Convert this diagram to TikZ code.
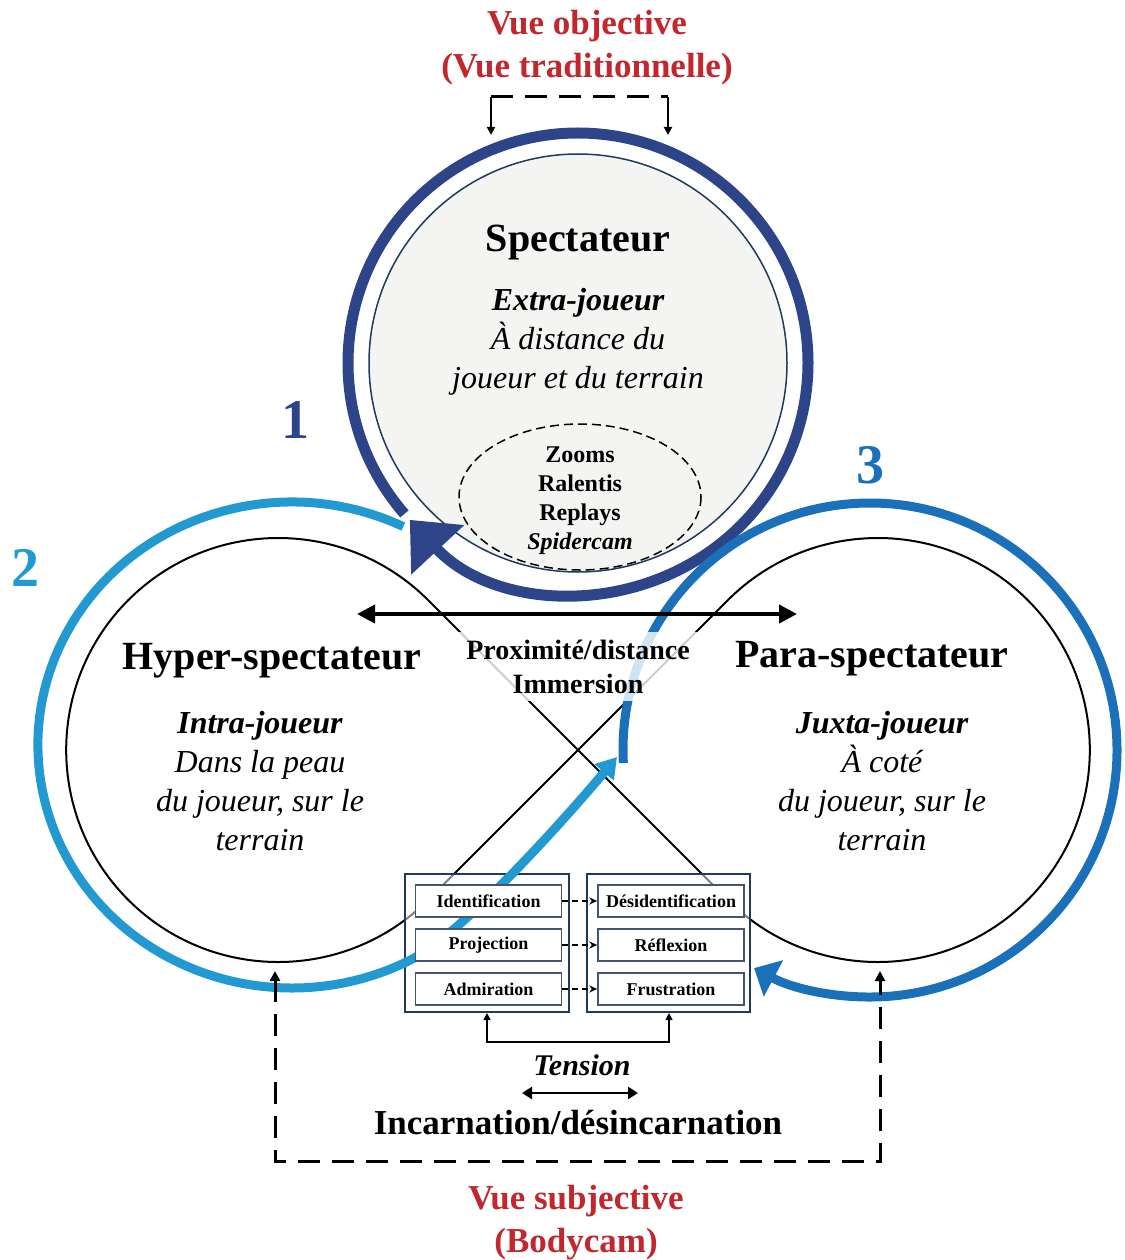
\documentclass[tikz,border=0pt]{standalone}
\usepackage{fontspec}
\setmainfont{Liberation Serif}
\usetikzlibrary{arrows.meta, positioning}
\definecolor{ringnavy}{HTML}{2E4489}
\definecolor{ringsky}{HTML}{2399D2}
\definecolor{ringblue}{HTML}{1A70B9}
\definecolor{vuered}{HTML}{C1272D}
\definecolor{framenavy}{HTML}{203A5E}
\definecolor{boxgrey}{HTML}{44546A}
\definecolor{ballgrey}{HTML}{F4F4F2}
\newcommand\fsz[2]{\fontsize{#1}{#2}\selectfont}
\tikzset{
  rolename/.style={font=\bfseries\fsz{40}{48}, inner sep=0pt},
  roletext/.style={font=\itshape\fsz{32}{39}, align=center, inner sep=0pt},
  vue/.style={text=vuered, font=\bfseries\fsz{35}{43}, align=center, inner sep=0pt},
  loopnum/.style={font=\bfseries\fsz{56}{60}, inner sep=0pt},
  feelframe/.style={draw=framenavy, line width=2pt, fill=white, fill opacity=0.5, minimum width=164pt, minimum height=138pt, inner sep=0pt},
  feel/.style={draw=boxgrey, line width=1.5pt, fill=white, minimum width=146pt, minimum height=32pt, inner sep=0pt, font=\bfseries\fsz{18}{20}},
  feelarrow/.style={line width=1.5pt, dash pattern=on 6pt off 4pt, -{Stealth[length=8pt,width=7pt]}},
  viewline/.style={line width=3pt, dash pattern=on 22pt off 12pt},
}
\begin{document}
\begin{tikzpicture}[x=1pt, y=-1pt]
\useasboundingbox (0,0) rectangle (1124,1260);
% spectateur
\node[circle, draw=framenavy, line width=1.5pt, fill=ballgrey, minimum size=418pt, inner sep=0pt] (ball) at (578,363) {};
\draw[line width=1.5pt, dash pattern=on 9pt off 5pt] (580,497) ellipse [x radius=121, y radius=73];
\node[rolename, anchor=base] (sp) at (578,251) {Spectateur};
\node[roletext, anchor=base] (sprole) at (578,388) {{\bfseries Extra-joueur}\\À distance du\\joueur et du terrain};
\node[font=\bfseries\fsz{24}{29}, align=center, anchor=base, inner sep=0pt] (tools) at (580,549) {Zooms\\Ralentis\\Replays\\{\itshape Spidercam}};

% figure eight
\coordinate (cross) at (578,750);
\draw[line width=2pt, line join=round] (cross) -- (428.1,600.1) arc[start angle=-45, end angle=-315, radius=212] -- (cross) -- (727.9,600.1) arc[start angle=-135, end angle=135, radius=212] -- cycle;

\node[feelframe] (lf) at (487,943) {};
\node[feelframe, minimum width=163pt] (rf) at (668.5,943) {};

% loops 2, 1, 3
\coordinate (skytip) at (617,757);
\draw[ringsky, line width=9pt, -{Triangle[length=20pt,width=24pt]}] (403.3,526.6) arc[start angle=-64, end angle=-298, x radius=254, y radius=243] .. controls (464.5,932.8) and (572,810.6) .. (skytip);
\draw[ringnavy, line width=11pt, -{Triangle[length=41pt,width=70pt]}] ([shift={(139:230)}]ball.center) arc[start angle=139, end angle=497, radius=230];
\draw[ringblue, line width=9pt, -{Triangle[length=22pt,width=40pt]}] ([shift={(177:247)}]870,750) arc[start angle=177, end angle=478, radius=247];

\node[feel] (ident) at (488.5,901) {Identification};
\node[feel, below=10.5pt of ident] (proj) {Projection};
\node[feel, below=10.5pt of proj] (admir) {Admiration};
\node[feel, right=35pt of ident] (desid) {Désidentification};
\node[feel, below=10.5pt of desid] (reflex) {Réflexion};
\node[feel, below=10.5pt of reflex] (frust) {Frustration};
\draw[feelarrow] (ident) -- (desid);
\draw[feelarrow] (proj) -- (reflex);
\draw[feelarrow] (admir) -- (frust);

\node[font=\bfseries\fsz{28}{34}, align=center, anchor=base, fill=white, fill opacity=0.8, text opacity=1, inner xsep=8pt, inner ysep=8pt] (prox) at (578,693) {Proximité/distance\\Immersion};
\coordinate (proxl) at (357,614);
\coordinate (proxr) at (797,614);
\draw[line width=4pt, {Triangle[length=18pt,width=18pt]}-{Triangle[length=18pt,width=18pt]}] (proxl) -- (proxr);

\node[rolename, anchor=base] (hy) at (272,669) {Hyper-spectateur};
\node[rolename, anchor=base] (pa) at (872,667) {Para-spectateur};
\node[roletext, anchor=base] (hyrole) at (260,850) {{\bfseries Intra-joueur}\\Dans la peau\\du joueur, sur le\\terrain};
\node[roletext, anchor=base] (parole) at (882,850) {{\bfseries Juxta-joueur}\\À coté\\du joueur, sur le\\terrain};

\node[loopnum, text=ringnavy] (n1) at (295,420) {1};
\node[loopnum, text=ringsky] (n2) at (25,568) {2};
\node[loopnum, text=ringblue] (n3) at (870,465) {3};

% views
\node[vue, anchor=base] (vobj) at (587,78) {Vue objective\\(Vue traditionnelle)};
\coordinate (objl) at (491,97);
\coordinate (objr) at (668,97);
\coordinate (objltip) at (491,135);
\coordinate (objrtip) at (668,135);
\draw[viewline] (objl) -- (objr);
\draw[line width=2pt, -{Triangle[length=8pt,width=8pt]}] (objl) -- (objltip);
\draw[line width=2pt, -{Triangle[length=8pt,width=8pt]}] (objr) -- (objrtip);

\coordinate (hybot) at (275,971);
\coordinate (pabot) at (880,971);
\coordinate (subjl) at (275,1161);
\coordinate (subjr) at (880,1161);
\draw[viewline, {Triangle[length=10pt,width=10pt]}-{Triangle[length=10pt,width=10pt]}] (hybot) -- (subjl) -- (subjr) -- (pabot);
\node[vue, anchor=base] (vsubj) at (576,1252) {Vue subjective\\(Bodycam)};

% tension
\coordinate (brl) at (487,1042);
\coordinate (brr) at (669,1042);
\draw[line width=1.5pt, {Triangle[length=7pt,width=7pt]}-{Triangle[length=7pt,width=7pt]}] (lf.south -| brl) -- (brl) -- (brr) -- (rf.south -| brr);
\node[font=\bfseries\itshape\fsz{30}{36}, anchor=base, inner sep=0pt] (tens) at (582,1075) {Tension};
\coordinate (tensl) at (522,1093);
\coordinate (tensr) at (638,1093);
\draw[line width=2.5pt, {Triangle[length=10pt,width=12pt]}-{Triangle[length=10pt,width=12pt]}] (tensl) -- (tensr);
\node[font=\bfseries\fsz{35}{42}, anchor=base, inner sep=0pt] (incarn) at (578,1134) {Incarnation/désincarnation};
\end{tikzpicture}
\end{document}
